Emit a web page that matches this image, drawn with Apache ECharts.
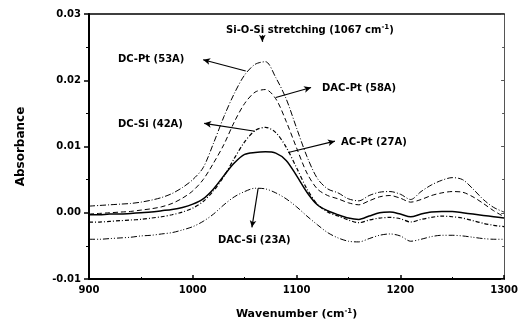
<!DOCTYPE html>
<html>
<head>
<meta charset="utf-8">
<script src="https://cdn.jsdelivr.net/npm/echarts@6/dist/echarts.min.js"></script>
<style>
  html, body { margin: 0; padding: 0; background: #fff; }
  #main { width: 521px; height: 325px; }
</style>
</head>
<body>
<div id="main"></div>
<script>
// wavenumber grid (cm-1), 10 cm-1 steps
var wavenumber = [900, 910, 920, 930, 940, 950, 960, 970, 980, 990,
    1000, 1010, 1020, 1030, 1040, 1050, 1060, 1070, 1080, 1090,
    1100, 1110, 1120, 1130, 1140, 1150, 1160, 1170, 1180, 1190,
    1200, 1210, 1220, 1230, 1240, 1250, 1260, 1270, 1280, 1290, 1300];

var dcPt = [0.0010, 0.0011, 0.0012, 0.0013, 0.0014, 0.0016, 0.0019, 0.0023, 0.0029, 0.0038,
    0.0050, 0.0068, 0.0105, 0.0145, 0.0180, 0.0208, 0.0224, 0.0228, 0.0204, 0.0172,
    0.0128, 0.0085, 0.0052, 0.0036, 0.0030, 0.0021, 0.0018, 0.0026, 0.0031, 0.0032,
    0.0028, 0.0020, 0.0032, 0.0042, 0.0049, 0.0053, 0.0050, 0.0036, 0.0020, 0.0008, 0.0001];

var dacPt = [-0.0002, -0.0001, 0.0000, 0.0001, 0.0002, 0.0004, 0.0006, 0.0009, 0.0014, 0.0022,
    0.0033, 0.0050, 0.0075, 0.0103, 0.0137, 0.0165, 0.0182, 0.0186, 0.0172, 0.0138,
    0.0098, 0.0060, 0.0036, 0.0026, 0.0021, 0.0015, 0.0012, 0.0018, 0.0024, 0.0026,
    0.0022, 0.0016, 0.0020, 0.0026, 0.0030, 0.0032, 0.0031, 0.0024, 0.0014, 0.0003, -0.0006];

var dcSi = [-0.0014, -0.0014, -0.0013, -0.0012, -0.0011, -0.0010, -0.0008, -0.0006, -0.0003, 0.0001,
    0.0007, 0.0017, 0.0033, 0.0055, 0.0082, 0.0107, 0.0124, 0.0129, 0.0121, 0.0099,
    0.0068, 0.0036, 0.0013, 0.0001, -0.0005, -0.0011, -0.0015, -0.0011, -0.0008, -0.0007,
    -0.0009, -0.0014, -0.0010, -0.0007, -0.0005, -0.0006, -0.0008, -0.0012, -0.0016, -0.0019, -0.0021];

var acPt = [-0.0003, -0.0003, -0.0002, -0.0002, -0.0001, 0.0000, 0.0001, 0.0003, 0.0005, 0.0008,
    0.0013, 0.0021, 0.0036, 0.0056, 0.0075, 0.0088, 0.0091, 0.0092, 0.0090, 0.0079,
    0.0056, 0.0031, 0.0012, 0.0003, -0.0003, -0.0008, -0.0010, -0.0005, 0.0000, 0.0001,
    -0.0002, -0.0006, -0.0002, 0.0001, 0.0002, 0.0002, 0.0000, -0.0002, -0.0004, -0.0006, -0.0008];

var dacSi = [-0.0040, -0.0040, -0.0039, -0.0038, -0.0037, -0.0035, -0.0034, -0.0032, -0.0030, -0.0026,
    -0.0021, -0.0013, -0.0002, 0.0012, 0.0024, 0.0032, 0.0037, 0.0036, 0.0030, 0.0021,
    0.0009, -0.0005, -0.0018, -0.0030, -0.0038, -0.0043, -0.0044, -0.0039, -0.0034, -0.0032,
    -0.0035, -0.0043, -0.0040, -0.0036, -0.0034, -0.0034, -0.0035, -0.0037, -0.0039, -0.0040, -0.0040];

var seriesNames = ['DC-Pt (53A)', 'DAC-Pt (58A)', 'DC-Si (42A)', 'AC-Pt (27A)', 'DAC-Si (23A)'];

// arrows: [from on curve, to label], in data units
var arrowFrom = [[1051, 0.0214], [1080, 0.0174], [1060, 0.0123], [1092, 0.0091], [1063, 0.0037]];
var arrowTo = [[1010, 0.0231], [1114, 0.0189], [1011, 0.0135], [1137, 0.0108], [1057, -0.0022]];
var peakMark = [[1067, 0.0268], [1067, 0.0258]];

function pairs(ys) {
    return wavenumber.map(function (x, i) { return [x, ys[i]]; });
}

var font = 'DejaVu Sans';
var styles = [
    { type: [6, 2, 1, 2], width: 1 },
    { type: [5, 3], width: 1 },
    { type: [4, 2, 1, 2], width: 1.2 },
    { type: 'solid', width: 1.5 },
    { type: [6, 2, 1, 2, 1, 2], width: 1 }
];
var curves = [dcPt, dacPt, dcSi, acPt, dacSi];

var myChart = echarts.init(document.getElementById('main'));

var series = curves.map(function (ys, i) {
    var s = {
        type: 'line',
        name: seriesNames[i],
        data: pairs(ys),
        showSymbol: false,
        smooth: 0.3,
        animation: false,
        lineStyle: { color: '#000', type: styles[i].type, width: styles[i].width },
        markLine: {
            silent: true,
            animation: false,
            symbol: ['none', 'arrow'],
            symbolSize: [5, 7],
            label: { show: false },
            lineStyle: { color: '#000', type: 'solid', width: 1.2 },
            data: [[{ coord: arrowFrom[i] }, { coord: arrowTo[i] }]]
        }
    };
    if (i === 0) {
        s.markLine.data.push([{ coord: peakMark[0] }, { coord: peakMark[1] }]);
    }
    return s;
});

myChart.setOption(option = {
    backgroundColor: '#fff',
    grid: { left: 89, right: 13, top: 14, bottom: 45 },
    xAxis: [{
        type: 'value',
        min: 900,
        max: 1300,
        interval: 100,
        name: 'Wavenumber (cm{sup|-1})',
        nameLocation: 'middle',
        nameGap: 29,
        nameTextStyle: {
            fontFamily: font, fontWeight: 'bold', fontSize: 11, color: '#000',
            rich: { sup: { fontFamily: font, fontWeight: 'bold', fontSize: 7, verticalAlign: 'top', padding: [0, 0, 6, 0] } }
        },
        axisLine: { onZero: false, lineStyle: { color: '#000', width: 2 } },
        axisTick: { inside: true, length: 4, lineStyle: { color: '#000', width: 1.5 } },
        minorTick: { show: true, splitNumber: 2, length: 2, lineStyle: { color: '#000' } },
        axisLabel: {
            fontFamily: font, fontWeight: 'bold', fontSize: 10, color: '#000', margin: 6,
            formatter: function (v) { return String(v); }
        },
        splitLine: { show: false }
    }, {
        type: 'value',
        position: 'top',
        min: 900,
        max: 1300,
        interval: 100,
        axisLine: { onZero: false, lineStyle: { color: '#000', width: 1.5 } },
        axisTick: { show: false },
        axisLabel: { show: false },
        splitLine: { show: false }
    }],
    yAxis: [{
        type: 'value',
        min: -0.01,
        max: 0.03,
        interval: 0.01,
        name: 'Absorbance',
        nameLocation: 'middle',
        nameGap: 62,
        nameTextStyle: { fontFamily: font, fontWeight: 'bold', fontSize: 12, color: '#000' },
        axisLine: { show: true, onZero: false, lineStyle: { color: '#000', width: 2 } },
        axisTick: { show: true, length: 5, lineStyle: { color: '#000', width: 1.5 } },
        minorTick: { show: true, splitNumber: 2, length: 3, lineStyle: { color: '#000' } },
        axisLabel: {
            fontFamily: font, fontWeight: 'bold', fontSize: 10, color: '#000', margin: 8,
            formatter: function (v) { return v.toFixed(2); }
        },
        splitLine: { show: false }
    }, {
        type: 'value',
        position: 'right',
        min: -0.01,
        max: 0.03,
        interval: 0.01,
        axisLine: { show: true, onZero: false, lineStyle: { color: '#555', width: 1 } },
        axisTick: { show: true, inside: true, length: 3, lineStyle: { color: '#555' } },
        minorTick: { show: true, splitNumber: 2, length: 2, lineStyle: { color: '#555' } },
        axisLabel: { show: false },
        splitLine: { show: false }
    }],
    graphic: [
        { type: 'text', left: 226, top: 24, style: { text: 'Si-O-Si stretching (1067 cm{sup|-1})', fill: '#000', font: 'bold 10px ' + font,
            rich: { sup: { fontFamily: font, fontWeight: 'bold', fontSize: 7, verticalAlign: 'top', padding: [0, 0, 5, 0] } } } },
        { type: 'text', left: 118, top: 54, style: { text: seriesNames[0], fill: '#000', font: 'bold 10px ' + font } },
        { type: 'text', left: 322, top: 83, style: { text: seriesNames[1], fill: '#000', font: 'bold 10px ' + font } },
        { type: 'text', left: 118, top: 119, style: { text: seriesNames[2], fill: '#000', font: 'bold 10px ' + font } },
        { type: 'text', left: 341, top: 137, style: { text: seriesNames[3], fill: '#000', font: 'bold 10px ' + font } },
        { type: 'text', left: 218, top: 235, style: { text: seriesNames[4], fill: '#000', font: 'bold 10px ' + font } }
    ],
    series: series
});
</script>
</body>
</html>
